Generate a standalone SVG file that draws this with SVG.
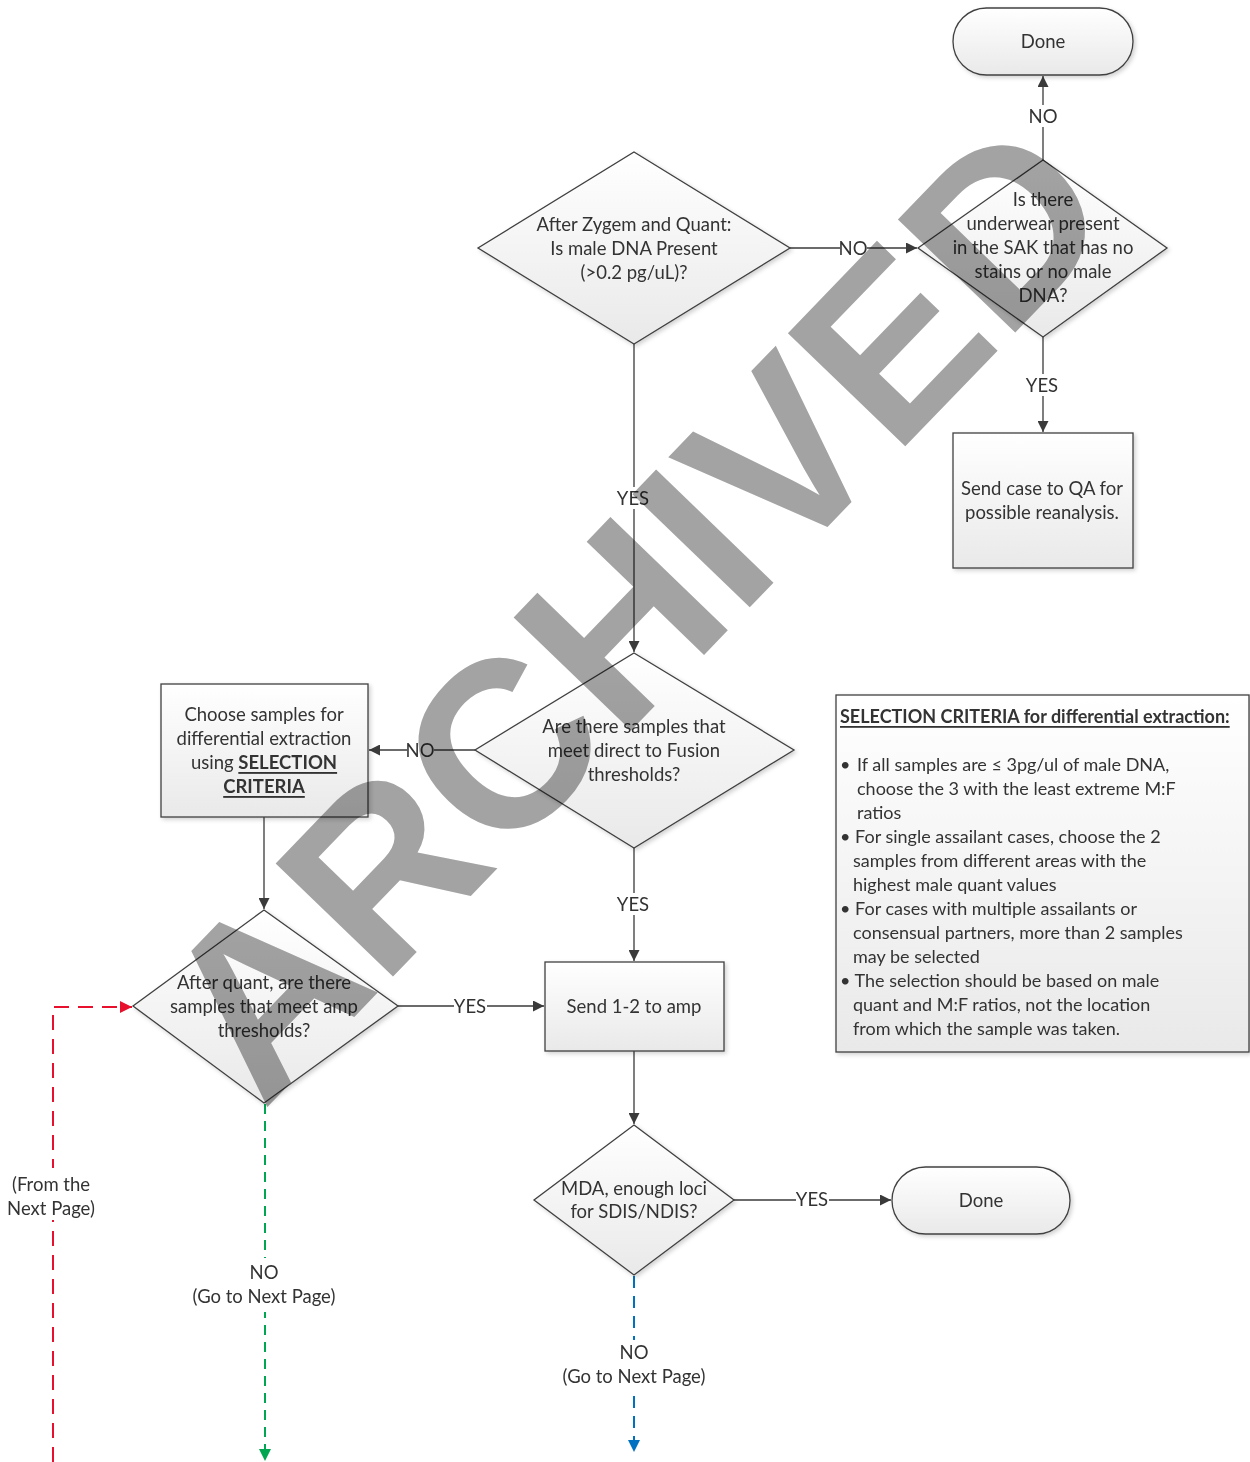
<svg xmlns="http://www.w3.org/2000/svg" width="1250" height="1462" viewBox="0 0 1250 1462">
<defs>
<linearGradient id="g" x1="0" y1="0" x2="0" y2="1">
<stop offset="0" stop-color="#ffffff"/>
<stop offset="1" stop-color="#e9e9e9"/>
</linearGradient>
<filter id="sh" x="-10%" y="-10%" width="125%" height="125%">
<feDropShadow dx="2" dy="2" stdDeviation="2" flood-color="#000" flood-opacity="0.18"/>
</filter>
<marker id="ah" viewBox="0 0 10 10" refX="10" refY="5" markerWidth="11" markerHeight="11" markerUnits="userSpaceOnUse" orient="auto">
<path d="M0,0 L10,5 L0,10 Z" fill="#3a3a3a"/>
</marker>
<marker id="ahr" viewBox="0 0 10 10" refX="10" refY="5" markerWidth="12" markerHeight="12" markerUnits="userSpaceOnUse" orient="auto">
<path d="M0,0 L10,5 L0,10 Z" fill="#e8112d"/>
</marker>
<marker id="ahg" viewBox="0 0 10 10" refX="10" refY="5" markerWidth="12" markerHeight="12" markerUnits="userSpaceOnUse" orient="auto">
<path d="M0,0 L10,5 L0,10 Z" fill="#00a650"/>
</marker>
<marker id="ahb" viewBox="0 0 10 10" refX="10" refY="5" markerWidth="12" markerHeight="12" markerUnits="userSpaceOnUse" orient="auto">
<path d="M0,0 L10,5 L0,10 Z" fill="#0070c0"/>
</marker>
</defs>
<style>
.shape{fill:url(#g);stroke:#404040;stroke-width:1.3;filter:url(#sh)}
.t{font-family:Lato,"Open Sans",sans-serif;font-size:18.5px;fill:#333;text-anchor:middle;dominant-baseline:central}
.tl{font-family:Lato,"Open Sans",sans-serif;font-size:18px;fill:#333;dominant-baseline:central}
.b{font-weight:bold;text-decoration:underline}
.ln{stroke:#3a3a3a;stroke-width:1.3;fill:none}
.bg{fill:#fff}
.lab{font-family:Lato,"Open Sans",sans-serif;font-size:18.5px;fill:#333;text-anchor:middle;dominant-baseline:central}
.wm{font-family:"Liberation Sans",Arial,sans-serif;font-weight:bold;font-size:237px;fill:#a3a3a3;mix-blend-mode:multiply}
</style>
<rect width="1250" height="1462" fill="#fff"/>

<g id="connectors">
<line class="ln" x1="1043" y1="160" x2="1043" y2="76" marker-end="url(#ah)"/>
<rect class="bg" x="1029" y="105" width="28" height="22"/>
<text class="lab" x="1043" y="116">NO</text>
<line class="ln" x1="790" y1="248" x2="917" y2="248" marker-end="url(#ah)"/>
<rect class="bg" x="840" y="238" width="27" height="20"/>
<text class="lab" x="853" y="248">NO</text>
<line class="ln" x1="1043" y1="337" x2="1043" y2="432" marker-end="url(#ah)"/>
<rect class="bg" x="1025" y="374" width="35" height="22"/>
<text class="lab" x="1042" y="385">YES</text>
<line class="ln" x1="634" y1="344" x2="634" y2="652" marker-end="url(#ah)"/>
<rect class="bg" x="616" y="487" width="35" height="22"/>
<text class="lab" x="633" y="498">YES</text>
<line class="ln" x1="475" y1="750" x2="369" y2="750" marker-end="url(#ah)"/>
<rect class="bg" x="407" y="740" width="27" height="20"/>
<text class="lab" x="420" y="750">NO</text>
<line class="ln" x1="264" y1="817" x2="264" y2="909" marker-end="url(#ah)"/>
<line class="ln" x1="634" y1="848" x2="634" y2="961" marker-end="url(#ah)"/>
<rect class="bg" x="616" y="893" width="35" height="22"/>
<text class="lab" x="633" y="904">YES</text>
<line class="ln" x1="398" y1="1006" x2="544" y2="1006" marker-end="url(#ah)"/>
<rect class="bg" x="454" y="996" width="33" height="20"/>
<text class="lab" x="470" y="1006">YES</text>
<line class="ln" x1="634" y1="1051" x2="634" y2="1124" marker-end="url(#ah)"/>
<line class="ln" x1="734" y1="1200" x2="891" y2="1200" marker-end="url(#ah)"/>
<rect class="bg" x="796" y="1190" width="33" height="20"/>
<text class="lab" x="812" y="1199">YES</text>
<path d="M634,1276 L634,1452" fill="none" stroke="#0070c0" stroke-width="2" stroke-dasharray="12,8" marker-end="url(#ahb)"/>
<rect class="bg" x="560" y="1340" width="148" height="48"/>
<text class="lab" x="634" y="1352">NO</text>
<text class="lab" x="634" y="1376">(Go to Next Page)</text>
<path d="M265,1104 L265,1461" fill="none" stroke="#00a650" stroke-width="2" stroke-dasharray="10,7" marker-end="url(#ahg)"/>
<rect class="bg" x="190" y="1258" width="150" height="54"/>
<text class="lab" x="264" y="1272">NO</text>
<text class="lab" x="264" y="1296">(Go to Next Page)</text>
<path d="M53,1462 L53,1007 L132,1007" fill="none" stroke="#e8112d" stroke-width="2" stroke-dasharray="15,9" marker-end="url(#ahr)"/>
<rect class="bg" x="6" y="1168" width="92" height="52"/>
<text class="lab" x="51" y="1184">(From the</text>
<text class="lab" x="51" y="1208">Next Page)</text>
</g>

<g id="done-top">
<rect class="shape" x="953" y="8" width="180" height="67" rx="33.5"/>
<text class="t" x="1043" y="41">Done</text>
</g>
<g id="male-dna">
<polygon class="shape" points="634,152 790,248 634,344 478,248"/>
<text class="t" x="634" y="224">After Zygem and Quant:</text>
<text class="t" x="634" y="248">Is male DNA Present</text>
<text class="t" x="634" y="272">(&gt;0.2 pg/uL)?</text>
</g>
<g id="underwear">
<polygon class="shape" points="1043,160 1167,248 1043,337 918,248"/>
<text class="t" x="1043" y="199">Is there</text>
<text class="t" x="1043" y="223">underwear present</text>
<text class="t" x="1043" y="247">in the SAK that has no</text>
<text class="t" x="1043" y="271">stains or no male</text>
<text class="t" x="1043" y="295">DNA?</text>
</g>
<g id="send-qa">
<rect class="shape" x="953" y="433" width="180" height="135"/>
<text class="t" x="1042" y="488">Send case to QA for</text>
<text class="t" x="1042" y="512">possible reanalysis.</text>
</g>
<g id="fusion">
<polygon class="shape" points="634,653 794,750 634,848 475,750"/>
<text class="t" x="634" y="726">Are there samples that</text>
<text class="t" x="634" y="750">meet direct to Fusion</text>
<text class="t" x="634" y="774">thresholds?</text>
</g>
<g id="choose">
<rect class="shape" x="161" y="684" width="207" height="133"/>
<text class="t" x="264" y="714">Choose samples for</text>
<text class="t" x="264" y="738">differential extraction</text>
<text class="t" x="264" y="762">using <tspan class="b">SELECTION</tspan></text>
<text class="t b" x="264" y="786">CRITERIA</text>
</g>
<g id="amp-thresholds">
<polygon class="shape" points="264,910 398,1006 264,1103 133,1006"/>
<text class="t" x="264" y="982">After quant, are there</text>
<text class="t" x="264" y="1006">samples that meet amp</text>
<text class="t" x="264" y="1030">thresholds?</text>
</g>
<g id="send-amp">
<rect class="shape" x="545" y="962" width="179" height="89"/>
<text class="t" x="634" y="1006">Send 1-2 to amp</text>
</g>
<g id="mda">
<polygon class="shape" points="634,1125 734,1200 634,1275 534,1200"/>
<text class="t" x="634" y="1188">MDA, enough loci</text>
<text class="t" x="634" y="1211">for SDIS/NDIS?</text>
</g>
<g id="done-bottom">
<rect class="shape" x="892" y="1167" width="178" height="67" rx="33.5"/>
<text class="t" x="981" y="1200">Done</text>
</g>
<g id="criteria">
<rect class="shape" x="836" y="695" width="413" height="357"/>
<text class="tl b" x="840" y="716">SELECTION CRITERIA for differential extraction:</text>
<text class="tl" x="840" y="764">•</text>
<text class="tl" x="857" y="764">If all samples are ≤ 3pg/ul of male DNA,</text>
<text class="tl" x="857" y="788">choose the 3 with the least extreme M:F</text>
<text class="tl" x="857" y="812">ratios</text>
<text class="tl" x="840" y="836">• For single assailant cases, choose the 2</text>
<text class="tl" x="853" y="860">samples from different areas with the</text>
<text class="tl" x="853" y="884">highest male quant values</text>
<text class="tl" x="840" y="908">• For cases with multiple assailants or</text>
<text class="tl" x="853" y="932">consensual partners, more than 2 samples</text>
<text class="tl" x="853" y="956">may be selected</text>
<text class="tl" x="840" y="980">• The selection should be based on male</text>
<text class="tl" x="853" y="1004">quant and M:F ratios, not the location</text>
<text class="tl" x="853" y="1028">from which the sample was taken.</text>
</g>

<text class="wm" x="0" y="85" text-anchor="middle" transform="translate(632,607) rotate(-46)">ARCHIVED</text>
</svg>
